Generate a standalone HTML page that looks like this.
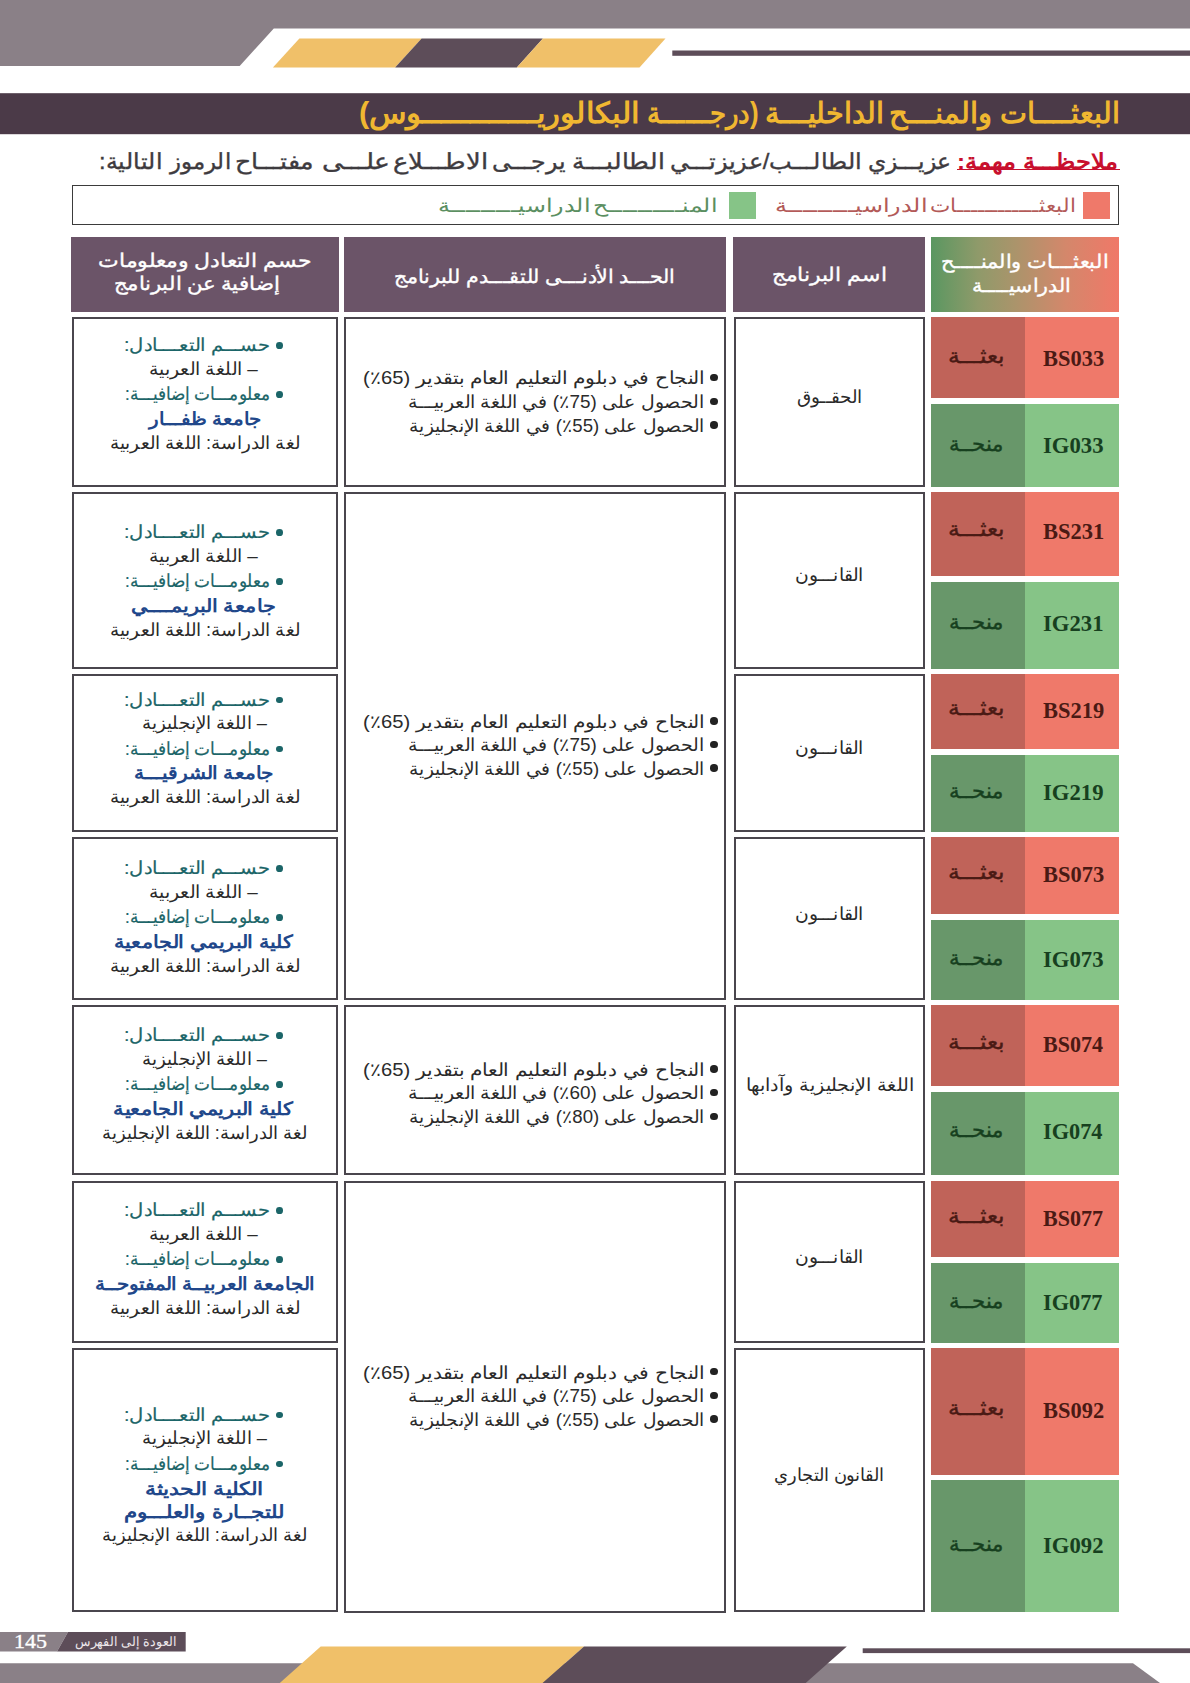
<!DOCTYPE html>
<html lang="ar" dir="rtl">
<head>
<meta charset="utf-8">
<style>
*{margin:0;padding:0;box-sizing:border-box}
html,body{width:1190px;height:1683px;overflow:hidden;background:#fff}
body{position:relative;font-family:"Liberation Sans",sans-serif;color:#2a2a2a}
svg.bg{position:absolute;left:0;top:0}
.t{position:absolute;white-space:nowrap;line-height:1;direction:rtl;transform-origin:0 0}
.f{position:absolute}
.box{position:absolute;border:2px solid #4a464d;background:#fff}
.dot{position:absolute;border-radius:50%}
</style>
</head>
<body>
<svg class="bg" width="1190" height="1683" viewBox="0 0 1190 1683">
  <polygon fill="#8a8087" points="0,0 1190,0 1190,28.5 273.8,28.5 239.7,66 0,66"/>
  <polygon fill="#f0c069" points="299.4,38.4 421.6,38.4 395.1,67.4 272.9,67.4"/>
  <polygon fill="#5d4d59" points="421.6,38.4 542.9,38.4 516.8,67.4 395.1,67.4"/>
  <polygon fill="#f0c069" points="542.9,38.4 665.5,38.4 639.5,67.4 516.8,67.4"/>
  <rect fill="#5d4d59" x="672.3" y="50.5" width="517.7" height="5.3"/>
  <rect fill="#4b3a48" x="0" y="93.2" width="1190" height="41"/>
  <polygon fill="#8a8087" points="0,1663.3 1133,1663.3 1160,1683 0,1683"/>
  <polygon fill="#f0c069" points="320.7,1646.6 584,1646.6 542.7,1683 279.8,1683"/>
  <polygon fill="#5d4d59" points="584,1646.6 846.8,1646.6 805.7,1683 542.7,1683"/>
  <rect fill="#5d4d59" x="862.7" y="1648.3" width="327.3" height="4.8"/>
  <polygon fill="#8a8087" points="0,1632 68,1632 57,1651.6 0,1651.6"/>
  <polygon fill="#5d4d59" points="68,1632 185.7,1632 185.7,1651.6 57,1651.6"/>
</svg>
<div class="t" style="left:1000.04px;top:98.95px;font-size:29px;color:#f0b731;font-weight:bold;transform:scale(0.9897,1.0000);">البعثــــات</div>
<div class="t" style="left:888.83px;top:98.95px;font-size:29px;color:#f0b731;font-weight:bold;transform:scale(0.9984,1.0000);">والمنـــح</div>
<div class="t" style="left:764.59px;top:98.95px;font-size:29px;color:#f0b731;font-weight:bold;transform:scale(0.9893,1.0000);">الداخليـــة</div>
<div class="t" style="left:646.76px;top:98.95px;font-size:29px;color:#f0b731;font-weight:bold;transform:scale(0.8956,1.0000);">(درجــــــة</div>
<div class="t" style="left:358.94px;top:98.95px;font-size:29px;color:#f0b731;font-weight:bold;transform:scale(1.0611,1.0000);">البكالوريــــــــــــوس)</div>
<div class="t" style="left:99.09px;top:150.60px;font-size:22px;color:#3e3b3f;font-weight:normal;transform:scale(1.0718,1.0000);-webkit-text-stroke:0.35px #3e3b3f;">التالية:</div>
<div class="t" style="left:169.89px;top:150.60px;font-size:22px;color:#3e3b3f;font-weight:normal;transform:scale(1.0318,1.0000);-webkit-text-stroke:0.35px #3e3b3f;">الرموز</div>
<div class="t" style="left:235.06px;top:150.60px;font-size:22px;color:#3e3b3f;font-weight:normal;transform:scale(1.1455,1.0000);-webkit-text-stroke:0.35px #3e3b3f;">مفتـــاح</div>
<div class="t" style="left:321.56px;top:150.60px;font-size:22px;color:#3e3b3f;font-weight:normal;transform:scale(1.2101,1.0000);-webkit-text-stroke:0.35px #3e3b3f;">علـــى</div>
<div class="t" style="left:393.17px;top:150.60px;font-size:22px;color:#3e3b3f;font-weight:normal;transform:scale(1.1746,1.0000);-webkit-text-stroke:0.35px #3e3b3f;">الاطـــلاع</div>
<div class="t" style="left:492.14px;top:150.60px;font-size:22px;color:#3e3b3f;font-weight:normal;transform:scale(1.0728,1.0000);-webkit-text-stroke:0.35px #3e3b3f;">يرجـــى</div>
<div class="t" style="left:571.62px;top:150.60px;font-size:22px;color:#3e3b3f;font-weight:normal;transform:scale(1.1254,1.0000);-webkit-text-stroke:0.35px #3e3b3f;">الطالبـــة</div>
<div class="t" style="left:670.41px;top:150.60px;font-size:22px;color:#3e3b3f;font-weight:normal;transform:scale(1.0903,1.0000);-webkit-text-stroke:0.35px #3e3b3f;">الطالـــب/عزيزتـــي</div>
<div class="t" style="left:867.80px;top:150.60px;font-size:22px;color:#3e3b3f;font-weight:normal;transform:scale(1.0684,1.0000);-webkit-text-stroke:0.35px #3e3b3f;">عزيـــزي</div>
<div class="t" style="left:956.81px;top:150.60px;font-size:22px;color:#c8102e;font-weight:bold;transform:scale(1.0959,1.0000);">ملاحظـــة مهمة:</div>
<div class="f" style="left:957.4px;top:169.0px;width:162.6px;height:1.2px;background:#c8102e"></div>
<div class="f" style="left:72px;top:185px;width:1047px;height:40px;border:1.5px solid #3b3b3b"></div>
<div class="f" style="left:1083px;top:192px;width:27px;height:26.5px;background:#ef796a"></div>
<div class="f" style="left:728.5px;top:192px;width:27px;height:26.5px;background:#86c487"></div>
<div class="t" style="left:929.84px;top:197.08px;font-size:18.5px;color:#b35a58;font-weight:normal;transform:scale(1.1362,1.0000);">البعثــــــــــــات</div>
<div class="t" style="left:774.61px;top:197.08px;font-size:18.5px;color:#b35a58;font-weight:normal;transform:scale(1.2557,1.0000);">الدراسيـــــــــة</div>
<div class="t" style="left:593.37px;top:197.08px;font-size:18.5px;color:#5b8f61;font-weight:normal;transform:scale(1.2406,1.0000);">المنــــــــــح</div>
<div class="t" style="left:438.03px;top:197.08px;font-size:18.5px;color:#5b8f61;font-weight:normal;transform:scale(1.2554,1.0000);">الدراسيـــــــــة</div>
<div class="f" style="left:71px;top:237px;width:268px;height:74.5px;background:#6b5468"></div>
<div class="f" style="left:344px;top:237px;width:382px;height:74.5px;background:#6b5468"></div>
<div class="f" style="left:733px;top:237px;width:192px;height:74.5px;background:#6b5468"></div>
<div class="f" style="left:931px;top:237px;width:188px;height:74.5px;background:linear-gradient(to right,#5a9761 0%,#8f9a6a 25%,#ab946b 45%,#d4876b 72%,#f07868 100%)"></div>
<div class="t" style="left:97.85px;top:251.15px;font-size:19px;color:#fff;font-weight:normal;transform:scale(1.1563,1.0000);-webkit-text-stroke:0.35px #fff;">حسم التعادل ومعلومات</div>
<div class="t" style="left:113.84px;top:274.15px;font-size:19px;color:#fff;font-weight:normal;transform:scale(1.1194,1.0000);-webkit-text-stroke:0.35px #fff;">إضافية عن البرنامج</div>
<div class="t" style="left:393.82px;top:266.65px;font-size:19px;color:#fff;font-weight:normal;transform:scale(1.0841,1.0000);-webkit-text-stroke:0.35px #fff;">الحـــد الأدنـــى للتقـــدم للبرنامج</div>
<div class="t" style="left:771.57px;top:264.55px;font-size:19px;color:#fff;font-weight:normal;transform:scale(1.1530,1.0000);-webkit-text-stroke:0.35px #fff;">اسم البرنامج</div>
<div class="t" style="left:940.94px;top:251.55px;font-size:19px;color:#fff;font-weight:normal;transform:scale(1.0974,1.0000);-webkit-text-stroke:0.35px #fff;">البعثـــات والمنــــح</div>
<div class="t" style="left:972.34px;top:275.75px;font-size:19px;color:#fff;font-weight:normal;transform:scale(1.0834,1.0000);-webkit-text-stroke:0.35px #fff;">الدراسيــــة</div>
<div class="box" style="left:72px;top:317px;width:266px;height:169.5px"></div>
<div class="box" style="left:734px;top:317px;width:191px;height:169.5px"></div>
<div class="f" style="left:1025px;top:317px;width:94px;height:81px;background:#ef796a"></div>
<div class="f" style="left:931px;top:317px;width:94px;height:81px;background:#c06359"></div>
<div class="f" style="left:1025px;top:404px;width:94px;height:82.5px;background:#86c487"></div>
<div class="f" style="left:931px;top:404px;width:94px;height:82.5px;background:#68976a"></div>
<div class="t" style="left:1043.12px;top:347.67px;font-size:22.3px;color:#4a1a14;font-weight:bold;font-family:'Liberation Serif',serif;direction:ltr;transform:scale(1.0071,1.0000);">BS033</div>
<div class="t" style="left:948.05px;top:344.65px;font-size:21px;color:#4a1a14;font-weight:normal;transform:scale(1.1168,1.0000);-webkit-text-stroke:0.4px #4a1a14;">بعثـــة</div>
<div class="t" style="left:1042.77px;top:435.07px;font-size:22.3px;color:#17401f;font-weight:bold;font-family:'Liberation Serif',serif;direction:ltr;transform:scale(1.0181,1.0000);">IG033</div>
<div class="t" style="left:949.28px;top:433.15px;font-size:21px;color:#17401f;font-weight:normal;transform:scale(1.0112,1.0000);-webkit-text-stroke:0.4px #17401f;">منحــة</div>
<div class="t" style="left:796.75px;top:387.95px;font-size:18px;color:#2a2a2a;font-weight:normal;transform:scale(1.0200,1.0000);">الحقــوق</div>
<div class="t" style="left:123.82px;top:336.20px;font-size:18px;color:#1b6568;font-weight:normal;transform:scale(1.0881,1.0000);-webkit-text-stroke:0.2px #1b6568;">حســـم التعــــادل:</div>
<div class="dot" style="left:276.05px;top:342.25px;width:6.7px;height:6.7px;background:#1b6568"></div>
<div class="t" style="left:148.96px;top:359.70px;font-size:18px;color:#2a2a2a;font-weight:normal;transform:scale(1.0456,1.0000);">– اللغة العربية</div>
<div class="t" style="left:125.06px;top:385.20px;font-size:18px;color:#1b6568;font-weight:normal;transform:scale(0.9390,1.0000);-webkit-text-stroke:0.2px #1b6568;">معلومـــات إضافيـــة:</div>
<div class="dot" style="left:276.05px;top:391.25px;width:6.7px;height:6.7px;background:#1b6568"></div>
<div class="t" style="left:148.84px;top:409.90px;font-size:18px;color:#21478a;font-weight:bold;transform:scale(1.1001,1.0000);">جامعة ظفـــار</div>
<div class="t" style="left:109.74px;top:433.90px;font-size:18px;color:#2a2a2a;font-weight:normal;transform:scale(1.0209,1.0000);">لغة الدراسة: اللغة العربية</div>
<div class="box" style="left:72px;top:492px;width:266px;height:176.5px"></div>
<div class="box" style="left:734px;top:492px;width:191px;height:176.5px"></div>
<div class="f" style="left:1025px;top:492px;width:94px;height:83.5px;background:#ef796a"></div>
<div class="f" style="left:931px;top:492px;width:94px;height:83.5px;background:#c06359"></div>
<div class="f" style="left:1025px;top:582px;width:94px;height:86.5px;background:#86c487"></div>
<div class="f" style="left:931px;top:582px;width:94px;height:86.5px;background:#68976a"></div>
<div class="t" style="left:1043.06px;top:521.37px;font-size:22.3px;color:#4a1a14;font-weight:bold;font-family:'Liberation Serif',serif;direction:ltr;transform:scale(1.0074,1.0000);">BS231</div>
<div class="t" style="left:948.05px;top:518.35px;font-size:21px;color:#4a1a14;font-weight:normal;transform:scale(1.1168,1.0000);-webkit-text-stroke:0.4px #4a1a14;">بعثـــة</div>
<div class="t" style="left:1042.79px;top:613.37px;font-size:22.3px;color:#17401f;font-weight:bold;font-family:'Liberation Serif',serif;direction:ltr;transform:scale(1.0181,1.0000);">IG231</div>
<div class="t" style="left:949.28px;top:611.45px;font-size:21px;color:#17401f;font-weight:normal;transform:scale(1.0112,1.0000);-webkit-text-stroke:0.4px #17401f;">منحــة</div>
<div class="t" style="left:795.47px;top:566.45px;font-size:18px;color:#2a2a2a;font-weight:normal;transform:scale(1.0399,1.0000);">القانـــون</div>
<div class="t" style="left:123.82px;top:523.20px;font-size:18px;color:#1b6568;font-weight:normal;transform:scale(1.0881,1.0000);-webkit-text-stroke:0.2px #1b6568;">حســـم التعــــادل:</div>
<div class="dot" style="left:276.05px;top:529.25px;width:6.7px;height:6.7px;background:#1b6568"></div>
<div class="t" style="left:148.96px;top:546.70px;font-size:18px;color:#2a2a2a;font-weight:normal;transform:scale(1.0456,1.0000);">– اللغة العربية</div>
<div class="t" style="left:125.06px;top:572.20px;font-size:18px;color:#1b6568;font-weight:normal;transform:scale(0.9390,1.0000);-webkit-text-stroke:0.2px #1b6568;">معلومـــات إضافيـــة:</div>
<div class="dot" style="left:276.05px;top:578.25px;width:6.7px;height:6.7px;background:#1b6568"></div>
<div class="t" style="left:131.27px;top:596.90px;font-size:18px;color:#21478a;font-weight:bold;transform:scale(1.1545,1.0000);">جامعة البريمــــي</div>
<div class="t" style="left:109.74px;top:620.90px;font-size:18px;color:#2a2a2a;font-weight:normal;transform:scale(1.0209,1.0000);">لغة الدراسة: اللغة العربية</div>
<div class="box" style="left:72px;top:674px;width:266px;height:158px"></div>
<div class="box" style="left:734px;top:674px;width:191px;height:158px"></div>
<div class="f" style="left:1025px;top:674px;width:94px;height:74.5px;background:#ef796a"></div>
<div class="f" style="left:931px;top:674px;width:94px;height:74.5px;background:#c06359"></div>
<div class="f" style="left:1025px;top:755px;width:94px;height:77px;background:#86c487"></div>
<div class="f" style="left:931px;top:755px;width:94px;height:77px;background:#68976a"></div>
<div class="t" style="left:1043.12px;top:699.97px;font-size:22.3px;color:#4a1a14;font-weight:bold;font-family:'Liberation Serif',serif;direction:ltr;transform:scale(1.0071,1.0000);">BS219</div>
<div class="t" style="left:948.05px;top:696.95px;font-size:21px;color:#4a1a14;font-weight:normal;transform:scale(1.1168,1.0000);-webkit-text-stroke:0.4px #4a1a14;">بعثـــة</div>
<div class="t" style="left:1042.78px;top:782.37px;font-size:22.3px;color:#17401f;font-weight:bold;font-family:'Liberation Serif',serif;direction:ltr;transform:scale(1.0184,1.0000);">IG219</div>
<div class="t" style="left:949.28px;top:780.45px;font-size:21px;color:#17401f;font-weight:normal;transform:scale(1.0112,1.0000);-webkit-text-stroke:0.4px #17401f;">منحــة</div>
<div class="t" style="left:795.47px;top:739.20px;font-size:18px;color:#2a2a2a;font-weight:normal;transform:scale(1.0399,1.0000);">القانـــون</div>
<div class="t" style="left:123.82px;top:690.50px;font-size:18px;color:#1b6568;font-weight:normal;transform:scale(1.0881,1.0000);-webkit-text-stroke:0.2px #1b6568;">حســـم التعــــادل:</div>
<div class="dot" style="left:276.05px;top:696.55px;width:6.7px;height:6.7px;background:#1b6568"></div>
<div class="t" style="left:141.57px;top:714.00px;font-size:18px;color:#2a2a2a;font-weight:normal;transform:scale(1.0148,1.0000);">– اللغة الإنجليزية</div>
<div class="t" style="left:125.06px;top:739.50px;font-size:18px;color:#1b6568;font-weight:normal;transform:scale(0.9390,1.0000);-webkit-text-stroke:0.2px #1b6568;">معلومـــات إضافيـــة:</div>
<div class="dot" style="left:276.05px;top:745.55px;width:6.7px;height:6.7px;background:#1b6568"></div>
<div class="t" style="left:134.13px;top:764.20px;font-size:18px;color:#21478a;font-weight:bold;transform:scale(1.1178,1.0000);">جامعة الشرقيـــة</div>
<div class="t" style="left:109.74px;top:788.20px;font-size:18px;color:#2a2a2a;font-weight:normal;transform:scale(1.0209,1.0000);">لغة الدراسة: اللغة العربية</div>
<div class="box" style="left:72px;top:837px;width:266px;height:163px"></div>
<div class="box" style="left:734px;top:837px;width:191px;height:163px"></div>
<div class="f" style="left:1025px;top:837px;width:94px;height:76.5px;background:#ef796a"></div>
<div class="f" style="left:931px;top:837px;width:94px;height:76.5px;background:#c06359"></div>
<div class="f" style="left:1025px;top:920px;width:94px;height:80px;background:#86c487"></div>
<div class="f" style="left:931px;top:920px;width:94px;height:80px;background:#68976a"></div>
<div class="t" style="left:1043.12px;top:863.57px;font-size:22.3px;color:#4a1a14;font-weight:bold;font-family:'Liberation Serif',serif;direction:ltr;transform:scale(1.0071,1.0000);">BS073</div>
<div class="t" style="left:948.05px;top:860.55px;font-size:21px;color:#4a1a14;font-weight:normal;transform:scale(1.1168,1.0000);-webkit-text-stroke:0.4px #4a1a14;">بعثـــة</div>
<div class="t" style="left:1042.77px;top:949.07px;font-size:22.3px;color:#17401f;font-weight:bold;font-family:'Liberation Serif',serif;direction:ltr;transform:scale(1.0181,1.0000);">IG073</div>
<div class="t" style="left:949.28px;top:947.15px;font-size:21px;color:#17401f;font-weight:normal;transform:scale(1.0112,1.0000);-webkit-text-stroke:0.4px #17401f;">منحــة</div>
<div class="t" style="left:795.47px;top:904.70px;font-size:18px;color:#2a2a2a;font-weight:normal;transform:scale(1.0399,1.0000);">القانـــون</div>
<div class="t" style="left:123.82px;top:859.20px;font-size:18px;color:#1b6568;font-weight:normal;transform:scale(1.0881,1.0000);-webkit-text-stroke:0.2px #1b6568;">حســـم التعــــادل:</div>
<div class="dot" style="left:276.05px;top:865.25px;width:6.7px;height:6.7px;background:#1b6568"></div>
<div class="t" style="left:148.96px;top:882.70px;font-size:18px;color:#2a2a2a;font-weight:normal;transform:scale(1.0456,1.0000);">– اللغة العربية</div>
<div class="t" style="left:125.06px;top:908.20px;font-size:18px;color:#1b6568;font-weight:normal;transform:scale(0.9390,1.0000);-webkit-text-stroke:0.2px #1b6568;">معلومـــات إضافيـــة:</div>
<div class="dot" style="left:276.05px;top:914.25px;width:6.7px;height:6.7px;background:#1b6568"></div>
<div class="t" style="left:113.86px;top:932.90px;font-size:18px;color:#21478a;font-weight:bold;transform:scale(1.1488,1.0000);">كلية البريمي الجامعية</div>
<div class="t" style="left:109.74px;top:956.90px;font-size:18px;color:#2a2a2a;font-weight:normal;transform:scale(1.0209,1.0000);">لغة الدراسة: اللغة العربية</div>
<div class="box" style="left:72px;top:1005px;width:266px;height:169.5px"></div>
<div class="box" style="left:734px;top:1005px;width:191px;height:169.5px"></div>
<div class="f" style="left:1025px;top:1005px;width:94px;height:81px;background:#ef796a"></div>
<div class="f" style="left:931px;top:1005px;width:94px;height:81px;background:#c06359"></div>
<div class="f" style="left:1025px;top:1092px;width:94px;height:82.5px;background:#86c487"></div>
<div class="f" style="left:931px;top:1092px;width:94px;height:82.5px;background:#68976a"></div>
<div class="t" style="left:1043.08px;top:1033.57px;font-size:22.3px;color:#4a1a14;font-weight:bold;font-family:'Liberation Serif',serif;direction:ltr;transform:scale(0.9906,1.0000);">BS074</div>
<div class="t" style="left:948.05px;top:1030.55px;font-size:21px;color:#4a1a14;font-weight:normal;transform:scale(1.1168,1.0000);-webkit-text-stroke:0.4px #4a1a14;">بعثـــة</div>
<div class="t" style="left:1042.79px;top:1121.27px;font-size:22.3px;color:#17401f;font-weight:bold;font-family:'Liberation Serif',serif;direction:ltr;transform:scale(1.0008,1.0000);">IG074</div>
<div class="t" style="left:949.28px;top:1119.35px;font-size:21px;color:#17401f;font-weight:normal;transform:scale(1.0112,1.0000);-webkit-text-stroke:0.4px #17401f;">منحــة</div>
<div class="t" style="left:746.29px;top:1075.95px;font-size:18px;color:#2a2a2a;font-weight:normal;transform:scale(1.0623,1.0000);">اللغة الإنجليزية وآدابها</div>
<div class="t" style="left:123.82px;top:1026.20px;font-size:18px;color:#1b6568;font-weight:normal;transform:scale(1.0881,1.0000);-webkit-text-stroke:0.2px #1b6568;">حســـم التعــــادل:</div>
<div class="dot" style="left:276.05px;top:1032.25px;width:6.7px;height:6.7px;background:#1b6568"></div>
<div class="t" style="left:141.57px;top:1049.70px;font-size:18px;color:#2a2a2a;font-weight:normal;transform:scale(1.0148,1.0000);">– اللغة الإنجليزية</div>
<div class="t" style="left:125.06px;top:1075.20px;font-size:18px;color:#1b6568;font-weight:normal;transform:scale(0.9390,1.0000);-webkit-text-stroke:0.2px #1b6568;">معلومـــات إضافيـــة:</div>
<div class="dot" style="left:276.05px;top:1081.25px;width:6.7px;height:6.7px;background:#1b6568"></div>
<div class="t" style="left:113.46px;top:1099.90px;font-size:18px;color:#21478a;font-weight:bold;transform:scale(1.1577,1.0000);">كلية البريمي الجامعية</div>
<div class="t" style="left:101.77px;top:1123.90px;font-size:18px;color:#2a2a2a;font-weight:normal;transform:scale(0.9976,1.0000);">لغة الدراسة: اللغة الإنجليزية</div>
<div class="box" style="left:72px;top:1181px;width:266px;height:161.5px"></div>
<div class="box" style="left:734px;top:1181px;width:191px;height:161.5px"></div>
<div class="f" style="left:1025px;top:1181px;width:94px;height:76px;background:#ef796a"></div>
<div class="f" style="left:931px;top:1181px;width:94px;height:76px;background:#c06359"></div>
<div class="f" style="left:1025px;top:1263px;width:94px;height:79.5px;background:#86c487"></div>
<div class="f" style="left:931px;top:1263px;width:94px;height:79.5px;background:#68976a"></div>
<div class="t" style="left:1043.08px;top:1207.77px;font-size:22.3px;color:#4a1a14;font-weight:bold;font-family:'Liberation Serif',serif;direction:ltr;transform:scale(0.9906,1.0000);">BS077</div>
<div class="t" style="left:948.05px;top:1204.75px;font-size:21px;color:#4a1a14;font-weight:normal;transform:scale(1.1168,1.0000);-webkit-text-stroke:0.4px #4a1a14;">بعثـــة</div>
<div class="t" style="left:1042.79px;top:1292.27px;font-size:22.3px;color:#17401f;font-weight:bold;font-family:'Liberation Serif',serif;direction:ltr;transform:scale(1.0008,1.0000);">IG077</div>
<div class="t" style="left:949.28px;top:1290.35px;font-size:21px;color:#17401f;font-weight:normal;transform:scale(1.0112,1.0000);-webkit-text-stroke:0.4px #17401f;">منحــة</div>
<div class="t" style="left:795.47px;top:1247.95px;font-size:18px;color:#2a2a2a;font-weight:normal;transform:scale(1.0399,1.0000);">القانـــون</div>
<div class="t" style="left:123.82px;top:1201.20px;font-size:18px;color:#1b6568;font-weight:normal;transform:scale(1.0881,1.0000);-webkit-text-stroke:0.2px #1b6568;">حســـم التعــــادل:</div>
<div class="dot" style="left:276.05px;top:1207.25px;width:6.7px;height:6.7px;background:#1b6568"></div>
<div class="t" style="left:148.96px;top:1224.70px;font-size:18px;color:#2a2a2a;font-weight:normal;transform:scale(1.0456,1.0000);">– اللغة العربية</div>
<div class="t" style="left:125.06px;top:1250.20px;font-size:18px;color:#1b6568;font-weight:normal;transform:scale(0.9390,1.0000);-webkit-text-stroke:0.2px #1b6568;">معلومـــات إضافيـــة:</div>
<div class="dot" style="left:276.05px;top:1256.25px;width:6.7px;height:6.7px;background:#1b6568"></div>
<div class="t" style="left:95.28px;top:1274.90px;font-size:18px;color:#21478a;font-weight:bold;transform:scale(1.1056,1.0000);">الجامعة العربيــة المفتوحــة</div>
<div class="t" style="left:109.74px;top:1298.90px;font-size:18px;color:#2a2a2a;font-weight:normal;transform:scale(1.0209,1.0000);">لغة الدراسة: اللغة العربية</div>
<div class="box" style="left:72px;top:1348px;width:266px;height:263.5px"></div>
<div class="box" style="left:734px;top:1348px;width:191px;height:263.5px"></div>
<div class="f" style="left:1025px;top:1348px;width:94px;height:126.5px;background:#ef796a"></div>
<div class="f" style="left:931px;top:1348px;width:94px;height:126.5px;background:#c06359"></div>
<div class="f" style="left:1025px;top:1480px;width:94px;height:131.5px;background:#86c487"></div>
<div class="f" style="left:931px;top:1480px;width:94px;height:131.5px;background:#68976a"></div>
<div class="t" style="left:1043.10px;top:1400.37px;font-size:22.3px;color:#4a1a14;font-weight:bold;font-family:'Liberation Serif',serif;direction:ltr;transform:scale(1.0071,1.0000);">BS092</div>
<div class="t" style="left:948.05px;top:1397.35px;font-size:21px;color:#4a1a14;font-weight:normal;transform:scale(1.1168,1.0000);-webkit-text-stroke:0.4px #4a1a14;">بعثـــة</div>
<div class="t" style="left:1042.79px;top:1534.77px;font-size:22.3px;color:#17401f;font-weight:bold;font-family:'Liberation Serif',serif;direction:ltr;transform:scale(1.0181,1.0000);">IG092</div>
<div class="t" style="left:949.28px;top:1532.85px;font-size:21px;color:#17401f;font-weight:normal;transform:scale(1.0112,1.0000);-webkit-text-stroke:0.4px #17401f;">منحــة</div>
<div class="t" style="left:774.01px;top:1465.95px;font-size:18px;color:#2a2a2a;font-weight:normal;transform:scale(0.9931,1.0000);">القانون التجاري</div>
<div class="t" style="left:123.82px;top:1405.50px;font-size:18px;color:#1b6568;font-weight:normal;transform:scale(1.0881,1.0000);-webkit-text-stroke:0.2px #1b6568;">حســـم التعــــادل:</div>
<div class="dot" style="left:276.05px;top:1411.55px;width:6.7px;height:6.7px;background:#1b6568"></div>
<div class="t" style="left:141.57px;top:1429.00px;font-size:18px;color:#2a2a2a;font-weight:normal;transform:scale(1.0148,1.0000);">– اللغة الإنجليزية</div>
<div class="t" style="left:125.06px;top:1454.50px;font-size:18px;color:#1b6568;font-weight:normal;transform:scale(0.9390,1.0000);-webkit-text-stroke:0.2px #1b6568;">معلومـــات إضافيـــة:</div>
<div class="dot" style="left:276.05px;top:1460.55px;width:6.7px;height:6.7px;background:#1b6568"></div>
<div class="t" style="left:144.78px;top:1480.30px;font-size:18px;color:#21478a;font-weight:bold;transform:scale(1.2211,1.0000);">الكلية الحديثة</div>
<div class="t" style="left:124.17px;top:1503.00px;font-size:18px;color:#21478a;font-weight:bold;transform:scale(1.1881,1.0000);">للتجــارة والعلـــوم</div>
<div class="t" style="left:101.77px;top:1526.00px;font-size:18px;color:#2a2a2a;font-weight:normal;transform:scale(0.9976,1.0000);">لغة الدراسة: اللغة الإنجليزية</div>
<div class="box" style="left:344px;top:317px;width:382px;height:169.5px"></div>
<div class="t" style="left:362.83px;top:369.40px;font-size:18px;color:#2b2b2b;font-weight:normal;transform:scale(1.1233,1.0000);">النجاح في دبلوم التعليم العام بتقدير (65٪)</div>
<div class="dot" style="left:710.35px;top:373.85px;width:7.5px;height:7.5px;background:#222"></div>
<div class="t" style="left:408.19px;top:393.05px;font-size:18px;color:#2b2b2b;font-weight:normal;transform:scale(1.0491,1.0000);">الحصول على (75٪) في اللغة العربيـــة</div>
<div class="dot" style="left:710.35px;top:397.50px;width:7.5px;height:7.5px;background:#222"></div>
<div class="t" style="left:408.89px;top:416.70px;font-size:18px;color:#2b2b2b;font-weight:normal;transform:scale(1.0337,1.0000);">الحصول على (55٪) في اللغة الإنجليزية</div>
<div class="dot" style="left:710.35px;top:421.15px;width:7.5px;height:7.5px;background:#222"></div>
<div class="box" style="left:344px;top:492px;width:382px;height:508px"></div>
<div class="t" style="left:362.83px;top:712.70px;font-size:18px;color:#2b2b2b;font-weight:normal;transform:scale(1.1233,1.0000);">النجاح في دبلوم التعليم العام بتقدير (65٪)</div>
<div class="dot" style="left:710.35px;top:717.15px;width:7.5px;height:7.5px;background:#222"></div>
<div class="t" style="left:408.19px;top:736.35px;font-size:18px;color:#2b2b2b;font-weight:normal;transform:scale(1.0491,1.0000);">الحصول على (75٪) في اللغة العربيـــة</div>
<div class="dot" style="left:710.35px;top:740.80px;width:7.5px;height:7.5px;background:#222"></div>
<div class="t" style="left:408.89px;top:760.00px;font-size:18px;color:#2b2b2b;font-weight:normal;transform:scale(1.0337,1.0000);">الحصول على (55٪) في اللغة الإنجليزية</div>
<div class="dot" style="left:710.35px;top:764.45px;width:7.5px;height:7.5px;background:#222"></div>
<div class="box" style="left:344px;top:1005px;width:382px;height:169.5px"></div>
<div class="t" style="left:362.83px;top:1060.80px;font-size:18px;color:#2b2b2b;font-weight:normal;transform:scale(1.1233,1.0000);">النجاح في دبلوم التعليم العام بتقدير (65٪)</div>
<div class="dot" style="left:710.35px;top:1065.25px;width:7.5px;height:7.5px;background:#222"></div>
<div class="t" style="left:408.19px;top:1084.45px;font-size:18px;color:#2b2b2b;font-weight:normal;transform:scale(1.0491,1.0000);">الحصول على (60٪) في اللغة العربيـــة</div>
<div class="dot" style="left:710.35px;top:1088.90px;width:7.5px;height:7.5px;background:#222"></div>
<div class="t" style="left:408.89px;top:1108.10px;font-size:18px;color:#2b2b2b;font-weight:normal;transform:scale(1.0337,1.0000);">الحصول على (80٪) في اللغة الإنجليزية</div>
<div class="dot" style="left:710.35px;top:1112.55px;width:7.5px;height:7.5px;background:#222"></div>
<div class="box" style="left:344px;top:1181px;width:382px;height:432px"></div>
<div class="t" style="left:362.83px;top:1363.50px;font-size:18px;color:#2b2b2b;font-weight:normal;transform:scale(1.1233,1.0000);">النجاح في دبلوم التعليم العام بتقدير (65٪)</div>
<div class="dot" style="left:710.35px;top:1367.95px;width:7.5px;height:7.5px;background:#222"></div>
<div class="t" style="left:408.19px;top:1387.15px;font-size:18px;color:#2b2b2b;font-weight:normal;transform:scale(1.0491,1.0000);">الحصول على (75٪) في اللغة العربيـــة</div>
<div class="dot" style="left:710.35px;top:1391.60px;width:7.5px;height:7.5px;background:#222"></div>
<div class="t" style="left:408.89px;top:1410.80px;font-size:18px;color:#2b2b2b;font-weight:normal;transform:scale(1.0337,1.0000);">الحصول على (55٪) في اللغة الإنجليزية</div>
<div class="dot" style="left:710.35px;top:1415.25px;width:7.5px;height:7.5px;background:#222"></div>
<div class="t" style="left:14.14px;top:1633.36px;font-size:18.5px;color:#ffffff;font-weight:normal;font-family:'Liberation Serif',serif;direction:ltr;transform:scale(1.1874,1.0000);-webkit-text-stroke:0.3px #fff;">145</div>
<div class="t" style="left:74.88px;top:1635.45px;font-size:13px;color:#ece6ea;font-weight:normal;transform:scale(0.9747,1.0000);">العودة إلى الفهرس</div>
</body>
</html>
